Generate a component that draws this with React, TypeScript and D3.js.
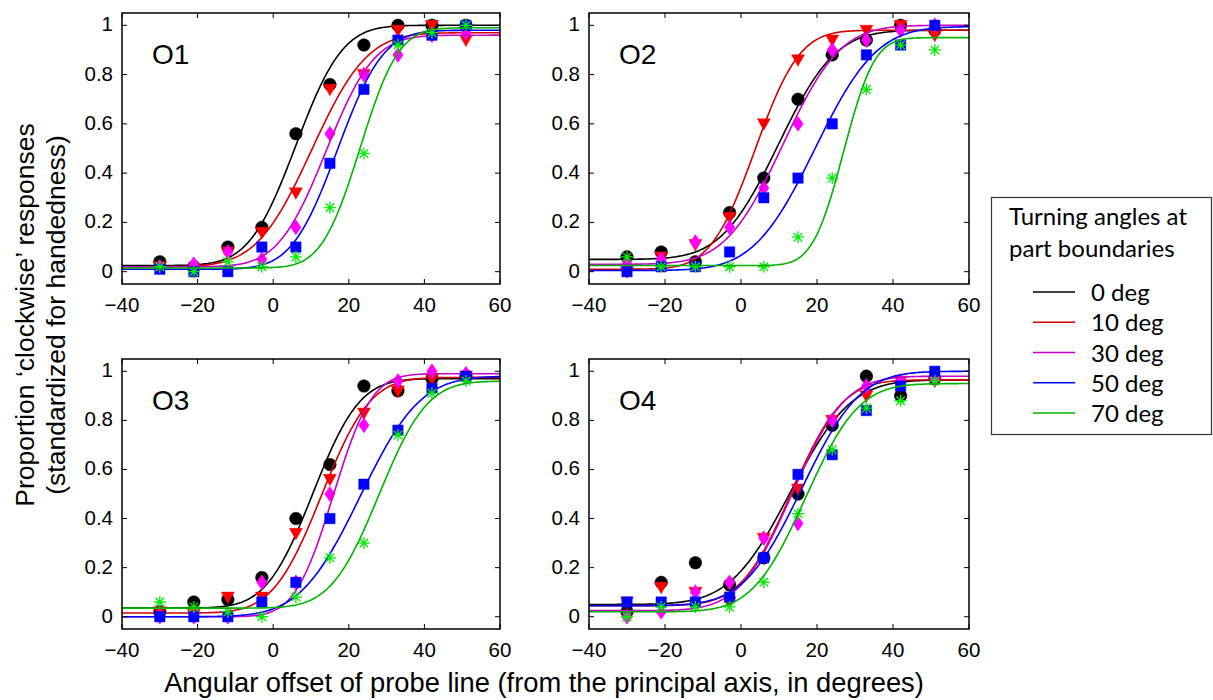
import React, { useEffect, useRef } from 'react';
import * as d3 from 'd3';

// probe offsets tested (deg) and the turning-angle conditions
const probeOffsets = [-30, -21, -12, -3, 6, 15, 24, 33, 42, 51];
const angleLabels = ['0 deg', '10 deg', '30 deg', '50 deg', '70 deg'];
const observers = ['O1', 'O2', 'O3', 'O4'];
const xTicks = [-40, -20, 0, 20, 40, 60];
const yTicks = [0, 0.2, 0.4, 0.6, 0.8, 1];

// proportion 'clockwise', one row per turning angle (0, 10, 30, 50, 70 deg)
const o1Props = [
  [0.04, 0.02, 0.1, 0.18, 0.56, 0.76, 0.92, 1.0, 1.0, 1.0],
  [0.02, 0.0, 0.08, 0.16, 0.32, 0.74, 0.8, 0.98, 1.0, 0.94],
  [0.02, 0.03, 0.08, 0.05, 0.18, 0.56, 0.8, 0.88, 0.96, 0.97],
  [0.01, 0.0, 0.0, 0.1, 0.1, 0.44, 0.74, 0.94, 0.96, 1.0],
  [0.02, 0.0, 0.04, 0.02, 0.06, 0.26, 0.48, 0.92, 0.97, 1.0],
];
const o2Props = [
  [0.06, 0.08, 0.04, 0.24, 0.38, 0.7, 0.88, 0.94, 1.0, 0.98],
  [0.0, 0.06, 0.11, 0.22, 0.6, 0.86, 0.94, 0.98, 1.0, 0.96],
  [0.03, 0.05, 0.12, 0.18, 0.34, 0.6, 0.9, 0.94, 0.98, 1.0],
  [0.0, 0.02, 0.02, 0.08, 0.3, 0.38, 0.6, 0.88, 0.92, 1.0],
  [0.06, 0.02, 0.02, 0.02, 0.02, 0.14, 0.38, 0.74, 0.92, 0.9],
];
const o3Props = [
  [0.02, 0.06, 0.07, 0.16, 0.4, 0.62, 0.94, 0.92, 0.97, 0.98],
  [0.02, 0.01, 0.08, 0.08, 0.34, 0.56, 0.83, 0.92, 0.97, 0.98],
  [0.0, 0.0, 0.0, 0.14, 0.14, 0.5, 0.78, 0.96, 1.0, 0.99],
  [0.0, 0.0, 0.0, 0.06, 0.14, 0.4, 0.54, 0.76, 0.93, 0.98],
  [0.06, 0.04, 0.02, 0.0, 0.08, 0.24, 0.3, 0.74, 0.91, 0.96],
];
const o4Props = [
  [0.02, 0.14, 0.22, 0.13, 0.24, 0.5, 0.78, 0.98, 0.9, 0.97],
  [0.06, 0.12, 0.1, 0.06, 0.32, 0.52, 0.8, 0.9, 0.96, 0.96],
  [0.0, 0.02, 0.1, 0.14, 0.32, 0.38, 0.8, 0.94, 0.96, 0.97],
  [0.06, 0.06, 0.06, 0.08, 0.24, 0.58, 0.66, 0.84, 0.94, 1.0],
  [0.0, 0.04, 0.04, 0.04, 0.14, 0.42, 0.68, 0.85, 0.88, 0.96],
];

// fitted psychometric functions: [lower, upper, mean, sd]
const o1Fits = [
  [0.025, 1.0, 6, 9.7],
  [0.02, 0.97, 10.2, 11.5],
  [0.02, 0.96, 14, 10],
  [0.01, 0.98, 17, 9.5],
  [0.015, 0.99, 23, 8],
];
const o2Fits = [
  [0.05, 0.98, 9.8, 11.8],
  [0.01, 0.98, 3.7, 9.2],
  [0.03, 1.0, 11, 11.9],
  [0.005, 0.995, 19.5, 12.7],
  [0.025, 0.95, 27, 6.4],
];
const o3Fits = [
  [0.035, 0.97, 10.5, 9.7],
  [0.015, 0.975, 12.8, 10.1],
  [0.0, 0.99, 15.9, 8],
  [0.0, 0.98, 23, 12.5],
  [0.035, 0.96, 28, 10],
];
const o4Fits = [
  [0.05, 0.965, 13, 12.5],
  [0.045, 0.965, 13.3, 10.5],
  [0.025, 0.98, 13.5, 11],
  [0.045, 1.0, 16, 12],
  [0.02, 0.95, 17, 11],
];

const allProps = [o1Props, o2Props, o3Props, o4Props];
const allFits = [o1Fits, o2Fits, o3Fits, o4Fits];

const lineColors = ['#000000', '#d40000', '#c800c8', '#0000ff', '#00b400'];
const markerColors = ['#000000', '#ff0000', '#ff00ff', '#0000ff', '#00ee00'];
const markerShapes = ['circle', 'triangle', 'diamond', 'square', 'star'];

// panel boxes in page pixels [left, top, right, bottom]
const panelBoxes = [
  [122, 13, 500, 284],
  [589, 13, 969, 284],
  [122, 359, 500, 629],
  [589, 359, 969, 629],
];

const axisFont = '"Liberation Sans", Arial, sans-serif';
const legendFont = 'Lato, "Open Sans", sans-serif';

// normal cdf through an erf approximation
function erf(x: number) {
  const s = x < 0 ? -1 : 1;
  const a = Math.abs(x);
  const t = 1 / (1 + 0.3275911 * a);
  const y =
    1 -
    ((((1.061405429 * t - 1.453152027) * t + 1.421413741) * t - 0.284496736) * t + 0.254829592) *
      t *
      Math.exp(-a * a);
  return s * y;
}
const normCdf = (z: number) => 0.5 * (1 + erf(z / Math.SQRT2));

function markerPath(shape: string) {
  switch (shape) {
    case 'triangle':
      return 'M-6.5,-5L6.5,-5L0,6.5Z';
    case 'diamond':
      return 'M0,-7.5L5.2,0L0,7.5L-5.2,0Z';
    case 'square':
      return 'M-5.2,-5.2L5.2,-5.2L5.2,5.2L-5.2,5.2Z';
    case 'star':
      return 'M-6,0L6,0M0,-6L0,6M-4.3,-4.3L4.3,4.3M-4.3,4.3L4.3,-4.3';
    default:
      return d3.symbol(d3.symbolCircle, 125)() as string;
  }
}

const fmtX = (d: number) => (d < 0 ? '\u2212' + Math.abs(d) : String(d));

export default function App() {
  const ref = useRef<SVGSVGElement>(null);

  useEffect(() => {
    const svg = d3.select(ref.current);
    svg.selectAll('*').remove();

    observers.forEach((name, p) => {
      const [l, t, r, b] = panelBoxes[p];
      const x = d3.scaleLinear().domain([-40, 60]).range([l, r]);
      const y = d3.scaleLinear().domain([-0.05, 1.05]).range([b, t]);
      const g = svg.append('g');

      // series: markers first, then the fitted curve
      allProps[p].forEach((vals, s) => {
        const shape = markerShapes[s];
        g.append('g')
          .selectAll('path')
          .data(vals)
          .enter()
          .append('path')
          .attr('transform', (d, i) => `translate(${x(probeOffsets[i])},${y(d)})`)
          .attr('d', markerPath(shape))
          .attr('fill', shape === 'star' ? 'none' : markerColors[s])
          .attr('stroke', markerColors[s])
          .attr('stroke-width', shape === 'star' ? 1.3 : 0.5);

        const [lo, hi, mu, sd] = allFits[p][s];
        const xs = d3.range(-40, 60.01, 0.5);
        const line = d3
          .line<number>()
          .x((d) => x(d))
          .y((d) => y(lo + (hi - lo) * normCdf((d - mu) / sd)));
        g.append('path')
          .datum(xs)
          .attr('d', line)
          .attr('fill', 'none')
          .attr('stroke', lineColors[s])
          .attr('stroke-width', 1.6);
      });

      // frame and inward ticks on all four sides
      g.append('rect')
        .attr('x', l)
        .attr('y', t)
        .attr('width', r - l)
        .attr('height', b - t)
        .attr('fill', 'none')
        .attr('stroke', '#000')
        .attr('stroke-width', 1.5);

      const tickLen = 5;
      xTicks.forEach((v) => {
        g.append('line').attr('x1', x(v)).attr('x2', x(v)).attr('y1', b).attr('y2', b - tickLen).attr('stroke', '#000');
        g.append('line').attr('x1', x(v)).attr('x2', x(v)).attr('y1', t).attr('y2', t + tickLen).attr('stroke', '#000');
        g.append('text')
          .attr('x', x(v))
          .attr('y', b + 28)
          .attr('text-anchor', 'middle')
          .style('font-family', axisFont)
          .style('font-size', '20.5px')
          .text(fmtX(v));
      });
      yTicks.forEach((v) => {
        g.append('line').attr('x1', l).attr('x2', l + tickLen).attr('y1', y(v)).attr('y2', y(v)).attr('stroke', '#000');
        g.append('line').attr('x1', r).attr('x2', r - tickLen).attr('y1', y(v)).attr('y2', y(v)).attr('stroke', '#000');
        g.append('text')
          .attr('x', l - 9)
          .attr('y', y(v) + 6)
          .attr('text-anchor', 'end')
          .style('font-family', axisFont)
          .style('font-size', '20.5px')
          .text(String(v));
      });

      // observer label
      g.append('text')
        .attr('x', l + 30)
        .attr('y', t + 51)
        .style('font-family', axisFont)
        .style('font-size', '28px')
        .text(name);
    });

    // axis titles
    svg
      .append('text')
      .attr('x', 544)
      .attr('y', 692)
      .attr('text-anchor', 'middle')
      .style('font-family', axisFont)
      .style('font-size', '27.3px')
      .text('Angular offset of probe line (from the principal axis, in degrees)');

    const yTitle = svg.append('g').attr('transform', 'translate(0,315) rotate(-90)');
    yTitle
      .append('text')
      .attr('x', 0)
      .attr('y', 34)
      .attr('text-anchor', 'middle')
      .style('font-family', axisFont)
      .style('font-size', '26.5px')
      .text('Proportion \u2018clockwise\u2019 responses');
    yTitle
      .append('text')
      .attr('x', 0)
      .attr('y', 65)
      .attr('text-anchor', 'middle')
      .style('font-family', axisFont)
      .style('font-size', '26.5px')
      .text('(standardized for handedness)');

    // legend box
    const lg = svg.append('g');
    lg.append('rect')
      .attr('x', 991.5)
      .attr('y', 197.5)
      .attr('width', 220)
      .attr('height', 237)
      .attr('fill', '#fff')
      .attr('stroke', '#333')
      .attr('stroke-width', 1.2);
    ['Turning angles at', 'part boundaries'].forEach((txt, i) => {
      lg.append('text')
        .attr('x', 1009)
        .attr('y', 225 + i * 32)
        .style('font-family', legendFont)
        .style('font-size', '24px')
        .text(txt);
    });
    const legendY = d3.scalePoint<string>().domain(angleLabels).range([292, 413]);
    angleLabels.forEach((lab, i) => {
      const yy = legendY(lab) as number;
      lg.append('line')
        .attr('x1', 1033)
        .attr('x2', 1075)
        .attr('y1', yy)
        .attr('y2', yy)
        .attr('stroke', lineColors[i])
        .attr('stroke-width', 1.4);
      lg.append('text')
        .attr('x', 1091)
        .attr('y', yy + 9)
        .style('font-family', legendFont)
        .style('font-size', '24px')
        .text(lab);
    });
  }, []);

  return (
    <svg
      ref={ref}
      width={1213}
      height={700}
      style={{ position: 'absolute', left: 0, top: 0, background: '#fff' }}
    />
  );
}
